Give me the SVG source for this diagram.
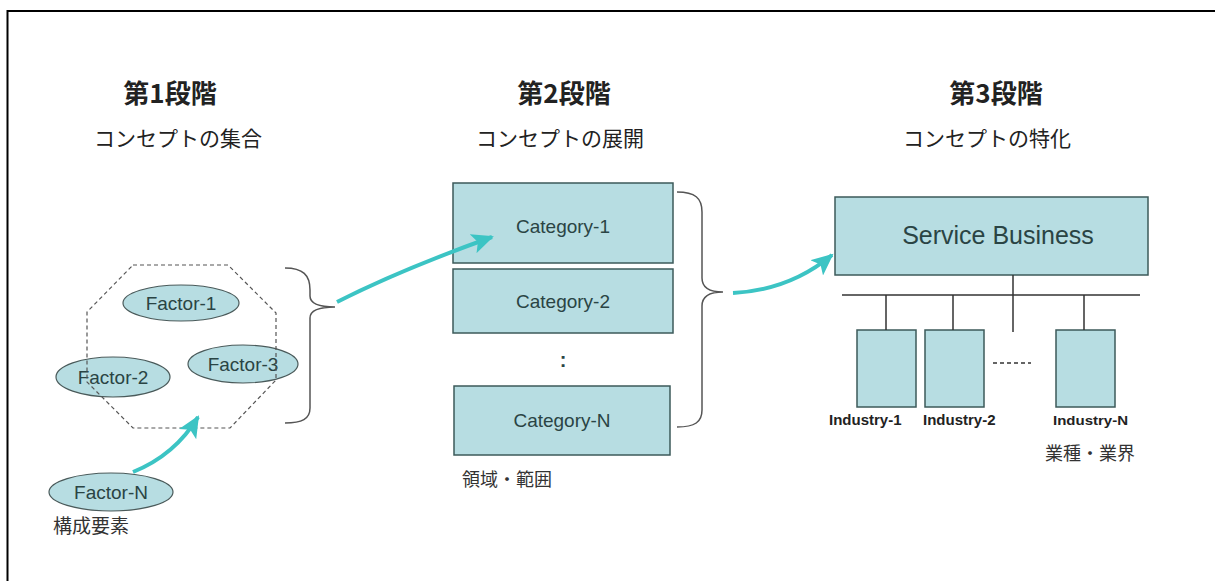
<svg xmlns="http://www.w3.org/2000/svg" width="1215" height="581" viewBox="0 0 1215 581">
<style>
.bg{fill:#ffffff}
.frame{fill:none;stroke:#000;stroke-width:2}
.box{fill:#b7dde2;stroke:#3c5a5a;stroke-width:1.5}
.ell{fill:#b7dde2;stroke:#4a5a5a;stroke-width:1.2}
.oct{fill:none;stroke:#555;stroke-width:1.2;stroke-dasharray:4,3}
.brace{fill:none;stroke:#555;stroke-width:1.5}
.wire{fill:none;stroke:#333;stroke-width:1.5}
.arrow{fill:none;stroke:#3cc4c4;stroke-width:4}
.lbl{font-family:"Liberation Sans",Arial,sans-serif;fill:#2a4444;text-anchor:middle}
.ind{font-family:"Liberation Sans",Arial,sans-serif;font-weight:bold;fill:#222}
.jt{font-family:"Noto Sans CJK JP",sans-serif;font-weight:bold;fill:#222;text-anchor:middle}
.js{font-family:"Noto Sans CJK JP",sans-serif;fill:#222;text-anchor:middle}
.jn{font-family:"Noto Sans CJK JP",sans-serif;fill:#333}
</style>
<defs>
<marker id="ah" markerUnits="userSpaceOnUse" markerWidth="24" markerHeight="20" refX="20" refY="10" orient="auto">
<path d="M0,0 L22,10 L0,20 L5,10 Z" fill="#3cc4c4"/>
</marker>
</defs>
<rect class="bg" x="0" y="0" width="1215" height="581"/>
<rect class="frame" x="7.5" y="11" width="1300" height="700"/>

<g id="titles">
<text class="jt" x="170" y="103" font-size="26">第1段階</text>
<text class="js" x="178" y="146" font-size="21">コンセプトの集合</text>
<text class="jt" x="564" y="103" font-size="26">第2段階</text>
<text class="js" x="560" y="146" font-size="21">コンセプトの展開</text>
<text class="jt" x="996" y="103" font-size="26">第3段階</text>
<text class="js" x="987" y="146" font-size="21">コンセプトの特化</text>
</g>

<g id="factor-1">
<ellipse class="ell" cx="181" cy="303" rx="58" ry="18"/>
<text class="lbl" x="181" y="310" font-size="19">Factor-1</text>
</g>
<g id="factor-2">
<ellipse class="ell" cx="113" cy="377" rx="57" ry="20"/>
<text class="lbl" x="113" y="384" font-size="19">Factor-2</text>
</g>
<g id="factor-3">
<ellipse class="ell" cx="243" cy="364" rx="55" ry="19"/>
<text class="lbl" x="243" y="371" font-size="19">Factor-3</text>
</g>
<g id="stage1-group">
<polygon class="oct" points="133,265 228,265 276,313 276,380 230,428 133,428 87,382 87,312"/>
</g>
<g id="factor-n">
<ellipse class="ell" cx="111" cy="492" rx="62" ry="19"/>
<text class="lbl" x="111" y="499" font-size="19">Factor-N</text>
<text class="jn" x="53" y="533" font-size="19">構成要素</text>
</g>

<g id="category-1">
<rect class="box" x="453" y="183" width="220" height="80"/>
<text class="lbl" x="563" y="233" font-size="19">Category-1</text>
</g>
<g id="category-2">
<rect class="box" x="453" y="269" width="220" height="64"/>
<text class="lbl" x="563" y="308" font-size="19">Category-2</text>
</g>
<g id="ellipsis-cat">
<text class="lbl" x="563" y="367" font-size="20" font-weight="bold" fill="#222">:</text>
</g>
<g id="category-n">
<rect class="box" x="454" y="386" width="216" height="69"/>
<text class="lbl" x="562" y="427" font-size="19">Category-N</text>
<text class="jn" x="462" y="486" font-size="18">領域・範囲</text>
</g>

<g id="service-business">
<rect class="box" x="835" y="197" width="313" height="78"/>
<text class="lbl" x="998" y="244" font-size="25">Service Business</text>
</g>
<g id="industry-1">
<rect class="box" x="857" y="330" width="59" height="77"/>
<text class="ind" x="829" y="425" font-size="15">Industry-1</text>
</g>
<g id="industry-2">
<rect class="box" x="925" y="330" width="59" height="77"/>
<text class="ind" x="923" y="425" font-size="15">Industry-2</text>
</g>
<g id="industry-n">
<rect class="box" x="1056" y="330" width="59" height="77"/>
<text class="ind" x="1053" y="425" font-size="13" textLength="75" lengthAdjust="spacingAndGlyphs">Industry-N</text>
<text class="jn" x="1045" y="460" font-size="18">業種・業界</text>
</g>

<g id="connectors">
<path class="brace" d="M285,268 C303,268 310,275 310,290 L310,296 C310,304 320,307 335,307 C320,307 310,310 310,318 L310,408 C310,419 302,423 285,423"/>
<path class="brace" d="M677,192 C695,192 702,198 702,212 L702,278 C702,288 710,292 723,292 C710,292 702,296 702,306 L702,410 C702,422 695,427 677,427"/>
<path class="wire" d="M1013,275 L1013,332"/>
<path class="wire" d="M842,295 L1140,295"/>
<path class="wire" d="M886,295 L886,330 M953,295 L953,330 M1084,295 L1084,330"/>
<line x1="993" y1="363" x2="1031" y2="363" stroke="#333" stroke-width="1.5" stroke-dasharray="4,3"/>
<path class="arrow" d="M133,472 Q175,455 198,417" marker-end="url(#ah)"/>
<path class="arrow" d="M337,302 Q400,270 492,237" marker-end="url(#ah)"/>
<path class="arrow" d="M733,293 Q790,290 832,255" marker-end="url(#ah)"/>
</g>
</svg>
